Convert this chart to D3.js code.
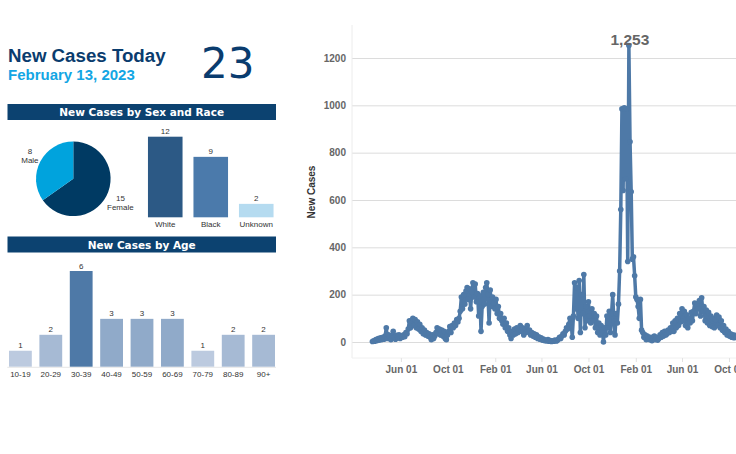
<!DOCTYPE html>
<html>
<head>
<meta charset="utf-8">
<script src="https://cdn.jsdelivr.net/npm/d3@7"></script>
<style>
  html, body { margin: 0; padding: 0; background: #fff; overflow: hidden; }
  svg { display: block; }
</style>
</head>
<body>
<svg id="chart" width="736" height="454"></svg>
<script>
// ---- data ----
const todayLabel = "February 13, 2023";
const todayCount = 23;

const sexLabels = ["Female", "Male"];
const sexValues = [15, 8];
const sexColors = ["#003a63", "#00a3dd"];

const raceLabels = ["White", "Black", "Unknown"];
const raceValues = [12, 9, 2];
const raceColors = ["#2c5985", "#4b7aab", "#b5dbf0"];

const ageLabels = ["10-19", "20-29", "30-39", "40-49", "50-59", "60-69", "70-79", "80-89", "90+"];
const ageValues = [1, 2, 6, 3, 3, 3, 1, 2, 2];

// new cases, one reading every 3 days from the start date
const seriesStart = "2020-03-19";
const seriesStepDays = 3;
const newCases = [
  2, 5, 3, 10, 6, 15, 8, 18, 10, 20,
  12, 25, 60, 15, 30, 20, 10, 25, 45, 20,
  12, 28, 18, 30, 15, 25, 20, 30, 22, 40,
  35, 55, 90, 60, 85, 100, 70, 95, 60, 85,
  55, 75, 45, 60, 35, 50, 30, 40, 25, 35,
  20, 10, 30, 15, 25, 40, 60, 35, 55, 30,
  50, 25, 45, 15, 10, 30, 45, 65, 40, 70,
  60, 80, 70, 95, 85, 100, 130, 190, 140, 200,
  160, 215, 230, 180, 225, 140, 210, 250, 190, 245,
  170, 205, 110, 195, 45, 150, 210, 160, 230, 250,
  200, 80, 220, 150, 190, 165, 140, 180, 120, 150,
  100, 120, 90, 75, 100, 60, 80, 45, 60, 30,
  15, 45, 30, 55, 35, 60, 40, 50, 70, 45,
  60, 30, 55, 40, 70, 45, 50, 30, 40, 25,
  35, 20, 30, 15, 22, 12, 18, 8, 12, 6,
  8, 4, 10, 3, 6, 2, 5, 3, 8, 4,
  6, 12, 20, 15, 25, 35, 30, 45, 60, 55,
  75, 100, 85, 20, 110, 250, 140, 230, 100, 260,
  40, 200, 120, 285, 60, 150, 90, 170, 110, 80,
  140, 90, 120, 60, 110, 40, 80, 30, 70, 50,
  0, 60, 30, 110, 60, 130, 40, 120, 200, 90,
  30, 120, 80, 160, 300, 560, 985, 640, 990, 690,
  985, 340, 1253, 846, 635, 350, 360, 280, 190, 180,
  150, 100, 180, 50, 40, 20, 30, 10, 25, 15,
  10, 20, 5, 15, 25, 10, 20, 8, 15, 30,
  20, 40, 25, 45, 30, 35, 50, 40, 60, 45,
  80, 45, 90, 60, 100, 70, 120, 85, 140, 90,
  130, 70, 115, 60, 100, 80, 125, 90, 130, 165,
  120, 160, 140, 175, 110, 187, 130, 150, 90, 135,
  80, 125, 70, 110, 65, 100, 60, 95, 114, 70,
  105, 60, 90, 50, 70, 40, 55, 30, 45, 25,
  35, 20, 30, 18, 28, 20
];

const yTickValues = [0, 200, 400, 600, 800, 1000, 1200];
const xTickDates = ["2020-06-01", "2020-10-01", "2021-02-01", "2021-06-01",
  "2021-10-01", "2022-02-01", "2022-06-01", "2022-10-01"];

// ---- drawing ----
const svg = d3.select("#chart");
const parse = d3.timeParse("%Y-%m-%d");
const navy = "#0a3c6e";
const sans = "'Liberation Sans', Arial, sans-serif";
const verdana = "'DejaVu Sans', Verdana, sans-serif";

svg.append("rect").attr("width", 736).attr("height", 454).attr("fill", "#fff");

// header
svg.append("text")
  .attr("x", 8).attr("y", 61.7)
  .attr("font-family", sans).attr("font-weight", "bold").attr("font-size", 18.7)
  .attr("fill", navy)
  .text("New Cases Today");

svg.append("text")
  .attr("x", 8).attr("y", 80)
  .attr("font-family", sans).attr("font-weight", "bold").attr("font-size", 15)
  .attr("fill", "#13a6e4")
  .text(todayLabel);

svg.append("text")
  .attr("x", 201).attr("y", 77.5)
  .attr("font-family", verdana).attr("font-size", 42)
  .attr("fill", navy)
  .text(todayCount);

function banner(y, label) {
  svg.append("rect")
    .attr("x", 7.5).attr("y", y)
    .attr("width", 268.5).attr("height", 16)
    .attr("fill", "#0c4270");
  svg.append("text")
    .attr("x", 141.7).attr("y", y + 12.4)
    .attr("text-anchor", "middle")
    .attr("font-family", verdana).attr("font-weight", "bold").attr("font-size", 10.5)
    .attr("fill", "#fff")
    .text(label);
}
banner(104, "New Cases by Sex and Race");
banner(236.5, "New Cases by Age");

// pie
const pieR = 37.3;
const pie = d3.pie().sort(null)(sexValues);
const arc = d3.arc().innerRadius(0).outerRadius(pieR);
const pieG = svg.append("g").attr("transform", "translate(73.3,178.8)");

pieG.selectAll("path")
  .data(pie)
  .join("path")
  .attr("d", arc)
  .attr("fill", (d, i) => sexColors[i]);

const pieLabels = pieG.selectAll("text")
  .data(pie)
  .join("text")
  .attr("text-anchor", "middle")
  .attr("font-family", sans).attr("font-size", 8)
  .attr("fill", "#333");
pieLabels.append("tspan").attr("x", 0).attr("y", -4.5).text(d => d.data);
pieLabels.append("tspan").attr("x", 0).attr("y", 4.8).text(d => sexLabels[d.index]);

// push each label box just outside the circle along its mid angle
pieLabels.each(function (d) {
  const a = (d.startAngle + d.endAngle) / 2;
  const dx = Math.sin(a), dy = -Math.cos(a);
  const halfW = this.getBBox().width / 2, halfH = 9;
  const r = pieR + halfW * Math.abs(dx) + halfH * Math.abs(dy) - 0.5;
  d3.select(this).attr("transform", `translate(${dx * r},${dy * r + 2})`);
});

// race bars
const xRace = d3.scaleBand().domain(raceLabels).range([142.5, 279]).paddingInner(0.24).paddingOuter(0.12);
const yRace = d3.scaleLinear().domain([0, 12]).range([217.3, 136.7]);

svg.append("g")
  .selectAll("rect")
  .data(raceValues)
  .join("rect")
  .attr("x", (d, i) => xRace(raceLabels[i]))
  .attr("y", d => yRace(d))
  .attr("width", xRace.bandwidth())
  .attr("height", d => yRace(0) - yRace(d))
  .attr("fill", (d, i) => raceColors[i]);

svg.append("g")
  .selectAll("text")
  .data(raceValues)
  .join("text")
  .attr("x", (d, i) => xRace(raceLabels[i]) + xRace.bandwidth() / 2)
  .attr("y", d => yRace(d) - 2.5)
  .attr("text-anchor", "middle")
  .attr("font-family", sans).attr("font-size", 8).attr("fill", "#333")
  .text(d => d);

svg.append("g")
  .selectAll("text")
  .data(raceLabels)
  .join("text")
  .attr("x", d => xRace(d) + xRace.bandwidth() / 2)
  .attr("y", 226.7)
  .attr("text-anchor", "middle")
  .attr("font-family", sans).attr("font-size", 8).attr("fill", "#333")
  .text(d => d);

// age bars
const xAge = d3.scaleBand().domain(ageLabels).range([5.2, 278.8]).paddingInner(0.25).paddingOuter(0.125);
const yAge = d3.scaleLinear().domain([0, 6]).range([366.7, 271]);
const ageColor = d3.scaleLinear().domain([1, 6]).range(["#bccadf", "#4e79a7"]);

svg.append("line")
  .attr("x1", 7.3).attr("x2", 276)
  .attr("y1", 367.3).attr("y2", 367.3)
  .attr("stroke", "#e6e6e6");

svg.append("g")
  .selectAll("rect")
  .data(ageValues)
  .join("rect")
  .attr("x", (d, i) => xAge(ageLabels[i]))
  .attr("y", d => yAge(d))
  .attr("width", xAge.bandwidth())
  .attr("height", d => yAge(0) - yAge(d))
  .attr("fill", d => ageColor(d));

svg.append("g")
  .selectAll("text")
  .data(ageValues)
  .join("text")
  .attr("x", (d, i) => xAge(ageLabels[i]) + xAge.bandwidth() / 2)
  .attr("y", d => yAge(d) - 2.5)
  .attr("text-anchor", "middle")
  .attr("font-family", sans).attr("font-size", 8).attr("fill", "#333")
  .text(d => d);

svg.append("g")
  .selectAll("text")
  .data(ageLabels)
  .join("text")
  .attr("x", d => xAge(d) + xAge.bandwidth() / 2)
  .attr("y", 376.7)
  .attr("text-anchor", "middle")
  .attr("font-family", sans).attr("font-size", 8).attr("fill", "#333")
  .text(d => d);

// time series
const plotLeft = 352, plotRight = 736, plotTop = 25, plotBottom = 358;
const x = d3.scaleTime().domain([parse("2020-01-26"), parse("2022-10-01")]).range([352, 729]);
const y = d3.scaleLinear().domain([0, 1200]).range([342, 58]);

const series = newCases.map((v, i) => ({
  date: d3.timeDay.offset(parse(seriesStart), i * seriesStepDays),
  value: v
}));

svg.append("g")
  .attr("transform", `translate(${plotLeft},0)`)
  .call(d3.axisLeft(y).tickValues(yTickValues).tickSize(-(plotRight - plotLeft)).tickPadding(6).tickFormat(d3.format("d")))
  .call(g => g.select(".domain").remove())
  .call(g => g.selectAll(".tick line").attr("stroke", "#dcdcdc"))
  .call(g => g.selectAll(".tick text")
    .attr("font-family", sans).attr("font-weight", "bold").attr("font-size", 10).attr("fill", "#666"));

svg.append("line")
  .attr("x1", plotLeft).attr("x2", plotLeft)
  .attr("y1", plotTop).attr("y2", plotBottom)
  .attr("stroke", "#ececec");
svg.append("line")
  .attr("x1", plotLeft).attr("x2", plotRight)
  .attr("y1", plotBottom).attr("y2", plotBottom)
  .attr("stroke", "#f0f0f0");

svg.append("g")
  .attr("transform", `translate(0,${plotBottom})`)
  .call(d3.axisBottom(x).tickValues(xTickDates.map(parse)).tickFormat(d3.timeFormat("%b %d")).tickSize(4).tickPadding(3.5))
  .call(g => g.select(".domain").remove())
  .call(g => g.selectAll(".tick line").attr("stroke", "#e2e2e2"))
  .call(g => g.selectAll(".tick text")
    .attr("font-family", sans).attr("font-weight", "bold").attr("font-size", 10).attr("fill", "#666"));

svg.append("text")
  .attr("transform", "translate(314.5,192) rotate(-90)")
  .attr("text-anchor", "middle")
  .attr("font-family", sans).attr("font-weight", "bold").attr("font-size", 10)
  .attr("fill", "#333")
  .text("New Cases");

const line = d3.line().x(d => x(d.date)).y(d => y(d.value));
svg.append("path")
  .datum(series)
  .attr("d", line)
  .attr("fill", "none")
  .attr("stroke", "#4e79a7")
  .attr("stroke-width", 3.5)
  .attr("stroke-linejoin", "round");

svg.append("g")
  .selectAll("circle")
  .data(series)
  .join("circle")
  .attr("cx", d => x(d.date))
  .attr("cy", d => y(d.value))
  .attr("r", 2.8)
  .attr("fill", "#4e79a7");

const peak = series.reduce((a, b) => (b.value > a.value ? b : a));
svg.append("text")
  .attr("x", x(peak.date) + 1)
  .attr("y", y(peak.value) - 0.5)
  .attr("text-anchor", "middle")
  .attr("font-family", sans).attr("font-weight", "bold").attr("font-size", 15.5)
  .attr("fill", "#666")
  .text(d3.format(",")(peak.value));
</script>
</body>
</html>
